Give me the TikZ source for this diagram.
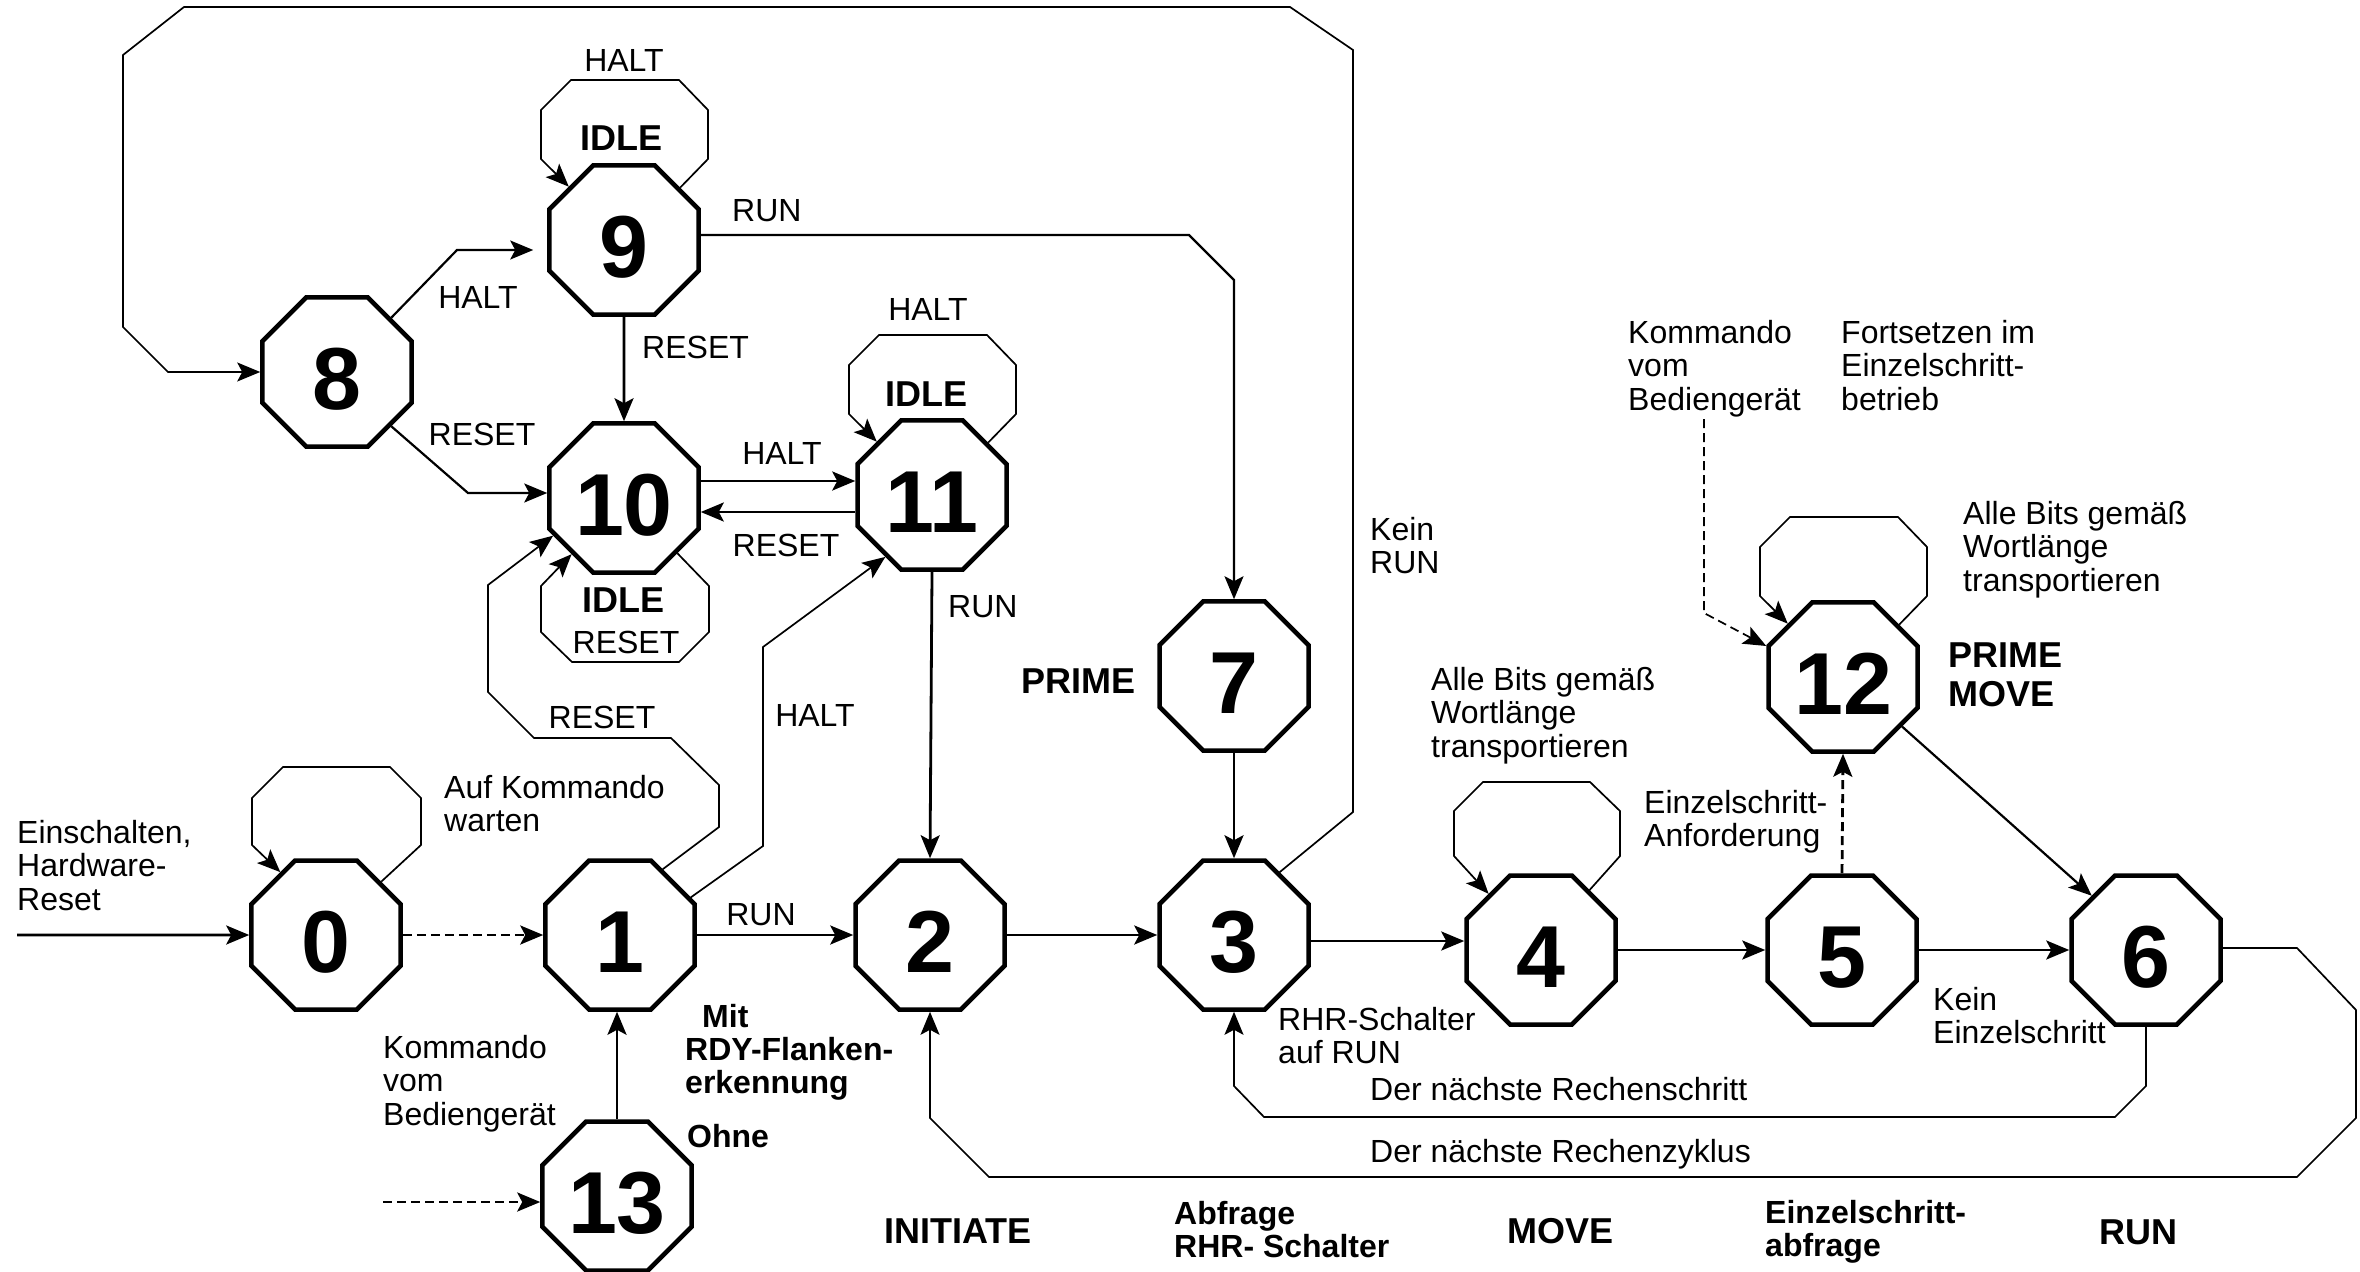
\documentclass[tikz,border=0pt]{standalone}
\usepackage{fontspec}
\setmainfont{Liberation Sans}
\usetikzlibrary{shapes.geometric,arrows.meta}

% left-aligned stack of lines whose baseline is the first line
\newcommand\mlines[1]{\begin{tabular}[t]{@{}l@{}}#1\end{tabular}}

\tikzset{
  oct/.style={regular polygon, regular polygon sides=8, draw, line width=4.5pt,
    minimum size=161.3pt, inner sep=0pt, fill=white,
    font=\fontsize{88}{88}\selectfont\bfseries, text height=75pt, text depth=0pt},
  lbl/.style={font=\fontsize{32}{33.5}\selectfont, inner sep=0pt, anchor=base west},
  blbl/.style={lbl, font=\fontsize{32}{33}\selectfont\bfseries},
  big/.style={font=\fontsize{36}{39}\selectfont\bfseries, inner sep=0pt, anchor=base west},
  conn/.style={line width=2.8pt, -{Stealth[length=23pt,width=19pt,inset=5pt]}},
  med/.style={line width=2.2pt},
  thin/.style={line width=1.7pt},
  dashline/.style={dash pattern=on 9pt off 5pt},
}

\begin{document}
\begin{tikzpicture}[x=1pt,y=-1pt]
\fill[white] (0,0) rectangle (2360,1271);
\useasboundingbox (0,0) rectangle (2360,1271);

% states
\node[oct] (n0) at (326,935) {0};
\node[oct] (n1) at (620,935) {1};
\node[oct] (n2) at (930,935) {2};
\node[oct] (n3) at (1234,935) {3};
\node[oct] (n4) at (1541,950) {4};
\node[oct] (n5) at (1842,950) {5};
\node[oct] (n6) at (2146,950) {6};
\node[oct] (n7) at (1234,676) {7};
\node[oct] (n8) at (337,372) {8};
\node[oct] (n9) at (624,240) {9};
\node[oct] (n10) at (624,498) {10};
\node[oct] (n11) at (932,495) {11};
\node[oct] (n12) at (1843,677) {12};
\node[oct] (n13) at (617,1196) {13};

% free ends
\coordinate (in0) at (17,935);
\coordinate (in13) at (383,1202);
\coordinate (in12) at (1704,419);

% main row
\draw[conn] (in0) -- (n0.west);
\draw[conn,dashline] (n0.east) -- (n1.west);
\draw[conn,dashline] (in13) -- (in13 -| n13.west);
\draw[conn] (n13.north) -- (n13.north |- n1.south);
\draw[conn] (n1.east) -- (n2.west);
\draw[conn] (n2.east) -- (n3.west);
\draw[conn] (n3.east |- 0,941) -- (n4.west |- 0,941);
\draw[conn] (n4.east) -- (n5.west);
\draw[conn] (n5.east) -- (n6.west);
\draw[conn] (n7.south) -- (n3.north);
\draw[conn] (n11.south) -- (n2.north);
\draw[conn] (n9.south) -- (n10.north);
\draw[conn] (n10.east |- 0,481) -- (n11.west |- 0,481);
\draw[conn] (n11.west |- 0,512) -- (n10.east |- 0,512);

% upper left block
\draw[conn,med,shorten >=14pt] (n8.45) -- (457,250) -- (n9.west |- 0,250);
\draw[conn,med] (n8.-45) -- (468,493) -- (n10.west |- 0,493);
\draw[conn,med] (n9.east |- 0,235) -- (1189,235) -- (1234,280) -- (n7.north);

% self loops
\draw[conn,thin] (n9.43) -- (708,159) -- (708,110) -- (679,80) -- (571,80) -- (541,110) -- (541,159) -- (n9.136);
\draw[conn,thin] (n11.43) -- (1016,414) -- (1016,365) -- (987,335) -- (879,335) -- (849,365) -- (849,414) -- (n11.136);
\draw[conn,thin] (n10.-46) -- (709,586) -- (709,632) -- (679,662) -- (572,662) -- (541,632) -- (541,586) -- (n10.227);
\draw[conn,thin] (n12.43) -- (1927,596) -- (1927,547) -- (1898,517) -- (1790,517) -- (1760,547) -- (1760,596) -- (n12.136);
\draw[conn,thin] (n0.44) -- (421,845) -- (421,798) -- (390,767) -- (283,767) -- (252,798) -- (252,845) -- (n0.126);
\draw[conn,thin] (n4.51) -- (1620,856) -- (1620,811) -- (1590,782) -- (1483,782) -- (1454,811) -- (1454,856) -- (n4.133);

% returns from state 1
\draw[conn,thin] (n1.57) -- (719,827) -- (719,785) -- (671,738) -- (534,738) -- (488,692) -- (488,585) -- (n10.208);
\draw[conn,thin] (n1.28) -- (763,846) -- (763,647) -- (n11.233);

% long return from state 3 to state 8
\draw[conn,thin] (n3.54) -- (1353,812) -- (1353,50) -- (1290,7) -- (184,7) -- (123,55) -- (123,327) -- (168,372) -- (n8.west);

% single step branch
\draw[conn,thin,dashline] (in12) -- (1704,613) -- (n12.158);
\draw[conn,dashline] (n5.north) -- (n12.south);
\draw[conn,med] (n12.-40) -- (n6.135);

% returns from state 6
\draw[conn,thin] (n6.south) -- (2146,1086) -- (2115,1117) -- (1264,1117) -- (1234,1086) -- (n3.south);
\draw[conn,thin] (n6.east |- 0,948) -- (2297,948) -- (2356,1010) -- (2356,1118) -- (2297,1177) -- (989,1177) -- (930,1118) -- (n2.south);

% labels
\node[lbl,anchor=base] (tHalt9) at (624,72) {HALT};
\node[big,anchor=base] (tIdle9) at (621,150) {IDLE};
\node[lbl] (tRun97) at (732,221) {RUN};
\node[lbl,anchor=base] (tHalt89) at (478,308) {HALT};
\node[lbl] (tReset910) at (642,358) {RESET};
\node[lbl,anchor=base] (tReset810) at (482,445) {RESET};
\node[lbl,anchor=base] (tHalt11) at (928,320) {HALT};
\node[big,anchor=base] (tIdle11) at (926,406) {IDLE};
\node[lbl,anchor=base] (tHalt1011) at (782,464) {HALT};
\node[lbl,anchor=base] (tReset1110) at (786,556) {RESET};
\node[big,anchor=base] (tIdle10) at (623,612) {IDLE};
\node[lbl,anchor=base] (tReset10) at (626,653) {RESET};
\node[lbl] (tRun112) at (948,617) {RUN};
\node[lbl,anchor=base] (tReset110) at (602,728) {RESET};
\node[lbl,anchor=base] (tHalt111) at (815,726) {HALT};
\node[lbl] (tKeinRun) at (1370,540) {\mlines{Kein\\RUN}};
\node[big] (tPrime7) at (1021,693) {PRIME};
\node[lbl] (tBits4) at (1431,690) {\mlines{Alle Bits gemäß\\Wortlänge\\transportieren}};
\node[lbl] (tKmdTop) at (1628,343) {\mlines{Kommando\\vom\\Bediengerät}};
\node[lbl] (tFort) at (1841,343) {\mlines{Fortsetzen im\\Einzelschritt-\\betrieb}};
\node[lbl] (tBits12) at (1963,524) {\mlines{Alle Bits gemäß\\Wortlänge\\transportieren}};
\node[big] (tPrimeMove) at (1948,667) {\mlines{PRIME\\MOVE}};
\node[lbl] (tAnf) at (1644,813) {\mlines{Einzelschritt-\\Anforderung}};
\node[lbl] (tAuf) at (444,798) {\mlines{Auf Kommando\\warten}};
\node[lbl] (tEin) at (17,843) {\mlines{Einschalten,\\Hardware-\\Reset}};
\node[lbl,anchor=base] (tRun12) at (761,925) {RUN};
\node[blbl] (tMit) at (685,1027) {\mlines{\hspace{17pt}Mit\\RDY-Flanken-\\erkennung}};
\node[blbl] (tOhne) at (687,1147) {Ohne};
\node[lbl] (tKmdBot) at (383,1058) {\mlines{Kommando\\vom\\Bediengerät}};
\node[lbl] (tRhr) at (1278,1030) {\mlines{RHR-Schalter\\auf RUN}};
\node[lbl] (tKeinEz) at (1933,1010) {\mlines{Kein\\Einzelschritt}};
\node[lbl] (tSchritt) at (1370,1100) {Der nächste Rechenschritt};
\node[lbl] (tZyklus) at (1370,1162) {Der nächste Rechenzyklus};
\node[big,anchor=base] (tInit) at (958,1243) {INITIATE};
\node[blbl] (tAbfr) at (1174,1224) {\mlines{Abfrage\\RHR- Schalter}};
\node[big,anchor=base] (tMove) at (1560,1243) {MOVE};
\node[blbl] (tEzAbf) at (1765,1223) {\mlines{Einzelschritt-\\abfrage}};
\node[big,anchor=base] (tRun) at (2138,1244) {RUN};
\end{tikzpicture}
\end{document}
